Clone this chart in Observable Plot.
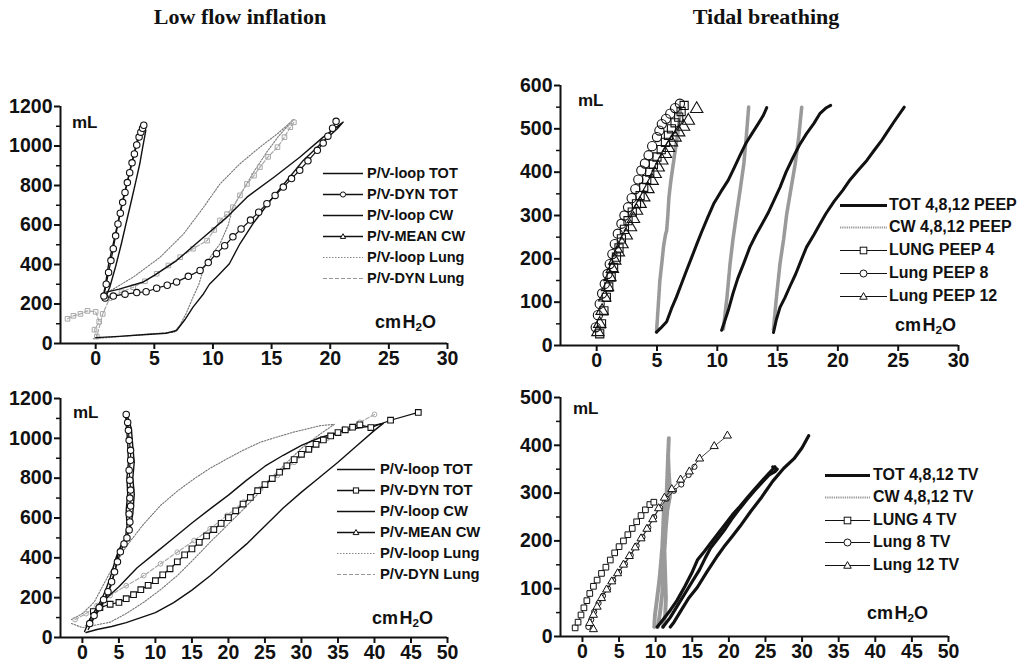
<!DOCTYPE html>
<html><head><meta charset="utf-8">
<script src="https://cdn.jsdelivr.net/npm/d3@7"></script>
<script src="https://cdn.jsdelivr.net/npm/@observablehq/plot@0.6"></script>
<style>
body{margin:0;background:#fff;}
#root{position:relative;width:1027px;height:668px;overflow:hidden;font-family:"Liberation Sans",Arial,sans-serif;color:#111;background:#fff;}
.abs{position:absolute;}
.title{font-family:"Liberation Serif","Times New Roman",serif;font-weight:bold;font-size:22px;line-height:22px;white-space:nowrap;transform:translateX(-50%);}
.unit{font-weight:bold;white-space:nowrap;line-height:1;}
.unit sub{font-size:65%;vertical-align:-0.25em;}
.leg{font-weight:bold;white-space:nowrap;display:flex;align-items:center;}
</style></head><body><div id="root"></div>
<script>
// ---------- titles / labels ----------
const titles = ["Low flow inflation", "Tidal breathing"];
const volUnit = "mL";

// ---------- ticks ----------
const xTicks30 = [0, 5, 10, 15, 20, 25, 30];
const xTicks50 = [0, 5, 10, 15, 20, 25, 30, 35, 40, 45, 50];
const yTicks1200 = [0, 200, 400, 600, 800, 1000, 1200];
const yMinor1200 = [100, 300, 500, 700, 900, 1100];
const yTicks600 = [0, 100, 200, 300, 400, 500, 600];
const yMinor600 = [50, 150, 250, 350, 450, 550];
const yTicks500 = [0, 100, 200, 300, 400, 500];
const yMinor500 = [50, 150, 250, 350, 450];

// ---------- legend labels ----------
const lowFlowLabels = ["P/V-loop TOT", "P/V-DYN TOT", "P/V-loop CW", "P/V-MEAN CW", "P/V-loop Lung", "P/V-DYN Lung"];
const peepLabels = ["TOT 4,8,12 PEEP", "CW 4,8,12 PEEP", "LUNG PEEP 4", "Lung PEEP 8", "Lung PEEP 12"];
const tvLabels = ["TOT 4,8,12 TV", "CW 4,8,12 TV", "LUNG 4 TV", "Lung 8 TV", "Lung 12 TV"];

// ---------- Panel A: low flow inflation (top) ----------
const aLoopTotX = [0, 2, 4, 6, 6.9, 7.6, 8.3, 9.2, 9.7, 10.3, 11.4, 12.3, 13.4, 14.9, 16.3, 17.7, 19.2, 20.6, 21.1, 19.4, 17.4, 15.2, 12.9, 11.2, 9.2, 6.9, 5.0, 4.0, 2.0, 0.9];
const aLoopTotY = [30, 36, 44, 52, 66, 120, 184, 252, 300, 336, 404, 505, 606, 724, 825, 927, 1011, 1087, 1121, 1045, 943, 842, 741, 640, 538, 420, 345, 310, 275, 260];
const aDynTotX = [0.8, 1.5, 2.5, 3.5, 4.3, 5.2, 6.1, 6.9, 7.9, 8.9, 9.6, 10.3, 11.0, 11.7, 12.4, 13.2, 13.9, 14.6, 15.3, 16.0, 16.7, 17.4, 18.1, 18.9, 19.4, 19.8, 20.2, 20.5];
const aDynTotY = [230, 240, 250, 258, 262, 280, 295, 312, 340, 370, 410, 455, 495, 540, 580, 625, 665, 708, 750, 792, 835, 877, 925, 978, 1015, 1050, 1090, 1125];
const aLoopCwX = [0.6, 0.8, 1.1, 1.5, 1.9, 2.3, 2.7, 3.05, 3.4, 3.76, 4.0, 4.15, 4.27, 4.0, 3.76, 3.4, 3.05, 2.6, 2.19, 1.7, 1.2, 0.9];
const aLoopCwY = [230, 285, 400, 505, 615, 724, 820, 910, 995, 1078, 1110, 1095, 1078, 990, 910, 815, 724, 610, 505, 390, 285, 240];
const aMeanCwX = [0.7, 0.9, 1.1, 1.3, 1.5, 1.7, 1.9, 2.1, 2.3, 2.5, 2.7, 2.9, 3.1, 3.3, 3.5, 3.7, 3.85, 4.0, 4.1];
const aMeanCwY = [240, 300, 360, 420, 480, 545, 605, 660, 715, 765, 815, 865, 915, 960, 1005, 1045, 1070, 1090, 1105];
const aLoopLungX = [-0.2, 1, 3, 5, 6.7, 7.2, 7.7, 8.3, 8.8, 9.2, 9.8, 10.6, 11.3, 11.7, 12.6, 13.6, 14.6, 15.6, 16.5, 16.9, 15.5, 14.0, 12.3, 10.6, 9.2, 7.5, 5.5, 3.2, 1.2];
const aLoopLungY = [24, 30, 40, 50, 57, 95, 150, 234, 300, 380, 440, 505, 600, 690, 780, 880, 970, 1050, 1110, 1135, 1062, 994, 910, 808, 690, 555, 437, 336, 265];
const aDynLungX = [-2.4, -1.9, -1.3, -0.7, 0, 0.3, -0.1, 0.1, 0.6, 1.2, 2.2, 3.2, 4.2, 5.2, 6.2, 7.2, 8.3, 9.5, 10.1, 10.6, 11.2, 11.7, 12.3, 12.9, 13.5, 14.0, 14.7, 15.5, 16.1, 16.6, 16.9];
const aDynLungY = [125, 140, 150, 165, 160, 110, 70, 35, 150, 230, 260, 285, 315, 353, 395, 437, 480, 521, 575, 623, 655, 690, 750, 808, 850, 893, 945, 994, 1045, 1095, 1120];

// ---------- Panel C: low flow inflation (bottom) ----------
const cLoopTotX = [0.5, 2, 4, 6, 8, 10, 12.5, 15, 17.5, 20, 22.5, 25, 27.5, 30, 32.5, 35, 37.5, 40, 41.2, 40, 37.5, 35, 32.5, 30, 27.5, 25, 22.5, 20, 17.5, 15, 12.5, 10, 7.5, 5, 3.5, 2, 0.5];
const cLoopTotY = [25, 40, 55, 75, 100, 125, 175, 238, 310, 390, 470, 560, 650, 730, 805, 880, 960, 1040, 1075, 1066, 1050, 1030, 1003, 965, 915, 860, 790, 715, 646, 575, 500, 425, 350, 255, 205, 150, 60];
const cDynTotX = [1.5, 2.4, 3.8, 5, 6, 7, 8, 9, 10, 11, 12, 13, 14, 15, 16, 17, 18, 19, 20, 21, 22, 23, 24, 25, 26, 27, 28, 29, 30, 31, 32, 33, 34, 35, 36, 37, 38, 39.5, 42.2, 46];
const cDynTotY = [130, 150, 167, 176, 195, 215, 240, 262, 285, 315, 345, 380, 415, 445, 478, 510, 542, 573, 602, 636, 670, 703, 737, 768, 798, 830, 862, 893, 920, 945, 970, 992, 1012, 1029, 1043, 1056, 1068, 1054, 1091, 1130];
const cLoopCwX = [0.3, 1.0, 1.8, 2.6, 3.2, 3.8, 4.2, 4.6, 5.0, 5.4, 5.9, 6.1, 6.0, 6.2, 6.1, 6.3, 6.2, 5.9, 6.1, 6.7, 6.9, 7.1, 6.9, 7.1, 6.9, 6.5, 5.9, 5.4, 4.9, 4.5, 3.9, 3.2, 2.5, 1.6, 0.8];
const cLoopCwY = [30, 90, 140, 190, 240, 300, 350, 400, 440, 470, 500, 560, 640, 720, 800, 880, 980, 1120, 1120, 1050, 960, 880, 800, 720, 620, 540, 500, 470, 420, 340, 260, 200, 150, 100, 40];
const cMeanCwX = [1.0, 1.6, 2.3, 2.9, 3.5, 4.0, 4.4, 4.8, 5.2, 5.7, 6.1, 6.4, 6.5, 6.4, 6.6, 6.5, 6.6, 6.5, 6.4, 6.6, 6.6, 6.4, 6.3, 6.2, 6.0];
const cMeanCwY = [70, 110, 150, 190, 230, 280, 330, 380, 430, 470, 500, 540, 580, 620, 660, 700, 740, 790, 840, 890, 940, 990, 1040, 1080, 1120];
const cLoopLungX = [-1.5, 0, 1.5, 3.8, 6, 8.4, 10.7, 13, 15.3, 17.5, 19.8, 22.1, 24, 25.5, 27.5, 30, 32.5, 34.5, 32.6, 30.5, 28.9, 26.5, 24.4, 22, 19.8, 17.5, 15.3, 13, 10.7, 8.4, 6.1, 3.8, 1.6, 0, -1.5];
const cLoopLungY = [70, 50, 60, 77, 120, 177, 240, 311, 395, 479, 562, 646, 720, 790, 860, 950, 1020, 1070, 1064, 1045, 1031, 1005, 981, 940, 897, 850, 797, 735, 663, 570, 462, 328, 177, 120, 90];
const cDynLungX = [-1, 0.5, 2, 3.8, 6, 8.4, 10.7, 13, 15.3, 17.5, 19.8, 22.1, 24.4, 26.7, 29, 31.2, 33.5, 35.8, 38, 40];
const cDynLungY = [90, 120, 160, 211, 260, 311, 370, 428, 487, 546, 613, 680, 747, 814, 880, 948, 1000, 1048, 1080, 1120];

// ---------- Panel B: tidal breathing, PEEP ----------
const bTotAX = [4.96, 5.3, 5.8, 6.2, 6.6, 7.0, 7.45, 7.9, 8.3, 8.7, 9.2, 9.7, 10.3, 10.9, 11.4, 11.9, 12.4, 12.9, 13.4, 13.8, 14.1];
const bTotAY = [31, 40, 55, 85, 111, 140, 173, 205, 234, 262, 295, 327, 355, 381, 410, 440, 468, 490, 512, 530, 549];
const bTotBX = [10.36, 10.6, 10.9, 11.3, 11.7, 12.2, 12.7, 13.2, 13.7, 14.2, 14.7, 15.2, 15.7, 16.3, 16.8, 17.4, 18.0, 18.5, 19.0, 19.4];
const bTotBY = [35, 55, 80, 120, 155, 190, 227, 255, 280, 305, 335, 365, 400, 435, 462, 489, 512, 535, 548, 554];
const bTotCX = [14.66, 14.9, 15.2, 15.6, 16.0, 16.5, 17.0, 17.4, 18.0, 18.5, 19.0, 19.7, 20.4, 21.0, 21.7, 22.4, 23.0, 23.6, 24.0, 24.7, 25.5];
const bTotCY = [30, 60, 88, 110, 135, 165, 200, 227, 255, 280, 304, 333, 358, 382, 405, 427, 450, 472, 489, 518, 550];
const bCwAX = [4.96, 5.1, 5.24, 5.4, 5.55, 5.7, 5.8, 5.9, 5.99, 6.15, 6.35, 6.55, 6.76, 6.96];
const bCwAY = [31, 90, 150, 190, 230, 255, 265, 300, 342, 380, 419, 458, 496, 550];
const bCwBX = [10.5, 10.8, 11.06, 11.3, 11.6, 11.9, 12.2, 12.4, 12.6];
const bCwBY = [38, 110, 189, 245, 304, 360, 419, 480, 550];
const bCwCX = [14.66, 14.9, 15.2, 15.5, 15.76, 16.1, 16.46, 16.75, 17.0];
const bCwCY = [38, 110, 189, 245, 304, 360, 419, 480, 550];
const bLung4X = [0.25, 0.4, 0.6, 0.8, 1.0, 1.2, 1.4, 1.64, 1.85, 2.05, 2.3, 2.6, 2.95, 3.3, 3.6, 3.9, 4.15, 4.4, 4.7, 5.0, 5.35, 5.7, 5.95, 6.2, 6.5, 6.8, 7.0, 7.25];
const bLung4Y = [27, 50, 80, 111, 135, 158, 180, 204, 225, 246, 268, 288, 308, 327, 346, 365, 383, 400, 418, 435, 452, 469, 485, 500, 514, 527, 540, 554];
const bLung8X = [-0.08, 0.1, 0.25, 0.45, 0.67, 0.9, 1.08, 1.3, 1.5, 1.75, 2.05, 2.3, 2.6, 2.9, 3.2, 3.45, 3.7, 4.0, 4.3, 4.6, 5.0, 5.2, 5.4, 5.75, 6.1, 6.5, 6.9];
const bLung8Y = [42, 70, 96, 120, 142, 165, 188, 211, 234, 258, 281, 300, 319, 340, 361, 383, 404, 420, 439, 460, 481, 496, 511, 523, 535, 548, 558];
const bLung12X = [0.1, 0.25, 0.45, 0.67, 0.9, 1.1, 1.3, 1.5, 1.8, 2.1, 2.45, 2.8, 3.05, 3.3, 3.6, 3.9, 4.25, 4.6, 4.85, 5.1, 5.4, 5.7, 5.95, 6.2, 6.5, 6.8, 7.2, 7.6, 8.29];
const bLung12Y = [31, 50, 80, 111, 135, 158, 177, 196, 215, 234, 254, 273, 292, 311, 327, 342, 361, 380, 396, 411, 427, 442, 456, 469, 480, 492, 505, 519, 546];

// ---------- Panel D: tidal breathing, TV ----------
const dTotAX = [10.2, 11.0, 12.0, 12.9, 14.0, 15.0, 15.7, 16.5, 17.5, 18.5, 19.5, 20.5, 21.5, 22.5, 23.5, 24.5, 25.5, 26.3];
const dTotAY = [20, 35, 55, 75, 105, 135, 160, 175, 195, 215, 235, 255, 272, 290, 308, 325, 342, 355];
const dTotBX = [11.0, 12.0, 13.0, 14.0, 15.0, 16.0, 16.8, 17.5, 18.5, 19.5, 20.5, 21.5, 22.5, 23.5, 24.5, 25.5, 26.3, 26.6, 26.0];
const dTotBY = [20, 40, 65, 90, 115, 140, 165, 185, 205, 225, 248, 268, 287, 305, 322, 338, 345, 350, 355];
const dTotCX = [12.0, 12.5, 13.5, 14.5, 15.7, 17.0, 18.5, 19.3, 20.5, 21.5, 23.0, 24.5, 26.0, 27.5, 28.9, 30.0, 30.9];
const dTotCY = [20, 30, 55, 80, 103, 135, 170, 187, 210, 230, 262, 292, 325, 352, 372, 395, 420];
const dCwAX = [9.8, 9.9, 10.2, 10.5, 10.7, 10.9, 11.0, 11.1, 11.3, 11.5, 11.6, 11.7, 11.8];
const dCwAY = [20, 45, 80, 117, 150, 187, 220, 257, 280, 300, 340, 380, 415];
const dCwBX = [10.3, 10.6, 10.9, 11.0, 11.1, 11.2, 11.4, 11.8, 12.0, 11.8, 11.7];
const dCwBY = [20, 50, 90, 140, 190, 240, 270, 285, 300, 340, 380];
const dCwCX = [11.0, 11.3, 11.4, 11.3, 11.2, 11.4, 11.6, 11.9, 11.7];
const dCwCY = [20, 45, 80, 130, 180, 230, 265, 290, 320];
const dLung4X = [-1, -0.6, -0.2, 0.2, 0.6, 1.0, 1.5, 2.0, 2.6, 3.2, 3.8, 4.4, 5.0, 5.6, 6.2, 6.8, 7.4, 8.0, 8.6, 9.2, 9.75];
const dLung4Y = [18, 30, 45, 60, 75, 90, 105, 118, 132, 145, 160, 175, 188, 200, 213, 226, 240, 253, 265, 276, 281];
const dLung8X = [0.8, 1.2, 1.6, 2.2, 2.8, 3.5, 4.2, 5.0, 5.8, 6.6, 7.4, 8.2, 9.0, 9.8, 10.6, 11.5, 12.5, 13.5, 14.5, 15.3];
const dLung8Y = [20, 35, 52, 70, 85, 100, 118, 135, 152, 170, 190, 208, 228, 250, 270, 288, 305, 318, 338, 355];
const dLung12X = [1.5, 1.0, 1.5, 2.0, 2.6, 3.3, 4.0, 4.8, 5.6, 6.4, 7.2, 8.0, 8.8, 9.6, 10.4, 11.2, 12.2, 13.4, 14.6, 16.0, 18.0, 19.8];
const dLung12Y = [15, 28, 45, 62, 80, 98, 115, 132, 150, 168, 186, 205, 225, 245, 268, 290, 308, 328, 345, 372, 398, 420];

// ---------- helpers ----------
const zip = (xs, ys) => xs.map((x, i) => ({x, y: ys[i]}));
const INK = "#111";
const LIGHT = "#a8a8a8";
const root = document.getElementById("root");
const plain = d => String(d);

function addPanel(o) {
  const svg = Plot.plot({
    width: o.width, height: o.height,
    marginLeft: o.ml, marginRight: o.mr, marginTop: o.mt, marginBottom: o.mb,
    x: {domain: o.xDomain}, y: {domain: o.yDomain},
    style: {background: "transparent", fontFamily: '"Liberation Sans", Arial, sans-serif', fontSize: "19.5px", fontWeight: "bold", color: INK, overflow: "visible"},
    marks: [
      ...o.marks,
      Plot.ruleX([o.xDomain[0]], {stroke: INK, strokeWidth: 2}),
      Plot.ruleY([o.yDomain[0]], {stroke: INK, strokeWidth: 2}),
      Plot.axisX(o.xTicks, {tickSize: 6, tickPadding: 2, strokeWidth: 2, tickFormat: plain, label: null}),
      Plot.axisY(o.yTicks, {tickSize: 6, tickPadding: 2, strokeWidth: 2, tickFormat: plain, label: null}),
      Plot.axisY(o.yMinor, {tickSize: 4, strokeWidth: 1.5, tickFormat: () => "", label: null})
    ]
  });
  svg.style.position = "absolute";
  svg.style.left = o.left + "px";
  svg.style.top = o.top + "px";
  root.appendChild(svg);
}

function symbolPath(sym, cx, cy, s) {
  if (sym === "circle") return `<circle cx="${cx}" cy="${cy}" r="${s}" />`;
  if (sym === "square") return `<rect x="${cx - s}" y="${cy - s}" width="${2 * s}" height="${2 * s}" />`;
  if (sym === "triangle") return `<path d="M${cx},${cy - s * 1.15}L${cx + s * 1.1},${cy + s * 0.8}L${cx - s * 1.1},${cy + s * 0.8}Z" />`;
  return "";
}

function addLegend(o) {
  o.labels.forEach((label, i) => {
    const st = o.styles[i];
    const cy = o.cy0 + i * o.rowH;
    const row = document.createElement("div");
    row.className = "abs leg";
    row.style.left = o.x0 + "px";
    row.style.top = Math.round(cy - o.rowH / 2) + "px";
    row.style.height = o.rowH + "px";
    row.style.fontSize = o.fontSize + "px";
    const w = o.lineW, h = 14, ly = 7.5;
    const dash = st.dash ? `stroke-dasharray="${st.dash}"` : "";
    const sym = st.symbol ? `<g fill="white" stroke="${st.stroke}" stroke-width="1">${symbolPath(st.symbol, w / 2, ly, st.size || 3)}</g>` : "";
    row.innerHTML = `<svg width="${w}" height="${h}" style="margin-right:${o.gap}px;overflow:visible"><line x1="0" y1="${ly}" x2="${w}" y2="${ly}" stroke="${st.stroke}" stroke-width="${st.width}" ${dash}/>${sym}</svg><span>${label}</span>`;
    root.appendChild(row);
  });
}

function addText(cls, html, left, top, fontSize) {
  const d = document.createElement("div");
  d.className = "abs " + cls;
  d.innerHTML = html;
  d.style.left = left + "px";
  d.style.top = top + "px";
  if (fontSize) d.style.fontSize = fontSize + "px";
  root.appendChild(d);
}

const lineM = (xs, ys, opt) => Plot.line(zip(xs, ys), {x: "x", y: "y", strokeLinejoin: "round", ...opt});
const dotM = (xs, ys, opt) => Plot.dot(zip(xs, ys), {x: "x", y: "y", ...opt});

// ---------- Panel A ----------
addPanel({
  left: 0, top: 80, width: 510, height: 300, ml: 60, mr: 63, mt: 26, mb: 37,
  xDomain: [-3, 30], yDomain: [0, 1200], xTicks: xTicks30, yTicks: yTicks1200, yMinor: yMinor1200,
  marks: [
    lineM(aLoopLungX, aLoopLungY, {stroke: "#777", strokeWidth: 1.1, strokeDasharray: "1.5,1.5"}),
    lineM(aDynLungX, aDynLungY, {stroke: LIGHT, strokeWidth: 1.2, strokeDasharray: "4,2"}),
    dotM(aDynLungX, aDynLungY, {symbol: "square", r: 2.6, stroke: LIGHT, fill: "none", strokeWidth: 1}),
    lineM(aLoopTotX, aLoopTotY, {stroke: INK, strokeWidth: 1.4}),
    lineM(aDynTotX, aDynTotY, {stroke: INK, strokeWidth: 1.2}),
    dotM(aDynTotX, aDynTotY, {symbol: "circle", r: 3.2, stroke: INK, fill: "white", strokeWidth: 1.1}),
    lineM(aLoopCwX, aLoopCwY, {stroke: INK, strokeWidth: 1.4}),
    lineM(aMeanCwX, aMeanCwY, {stroke: INK, strokeWidth: 1.2}),
    dotM(aMeanCwX, aMeanCwY, {symbol: "circle", r: 3.2, stroke: INK, fill: "white", strokeWidth: 1.1})
  ]
});

// ---------- Panel B ----------
const hatch = {stroke: "#9a9a9a", strokeWidth: 3.6, strokeDasharray: "1.3,0.9"};
addPanel({
  left: 500, top: 60, width: 527, height: 320, ml: 60, mr: 69, mt: 25, mb: 35,
  xDomain: [-3, 30], yDomain: [0, 600], xTicks: xTicks30, yTicks: yTicks600, yMinor: yMinor600,
  marks: [
    lineM(bCwAX, bCwAY, hatch),
    lineM(bCwBX, bCwBY, hatch),
    lineM(bCwCX, bCwCY, hatch),
    lineM(bTotAX, bTotAY, {stroke: INK, strokeWidth: 3}),
    lineM(bTotBX, bTotBY, {stroke: INK, strokeWidth: 3}),
    lineM(bTotCX, bTotCY, {stroke: INK, strokeWidth: 3}),
    dotM(bLung4X, bLung4Y, {symbol: "square", r: 4.6, stroke: INK, fill: "none", strokeWidth: 1.1}),
    dotM(bLung8X, bLung8Y, {symbol: "circle", r: 4.6, stroke: INK, fill: "none", strokeWidth: 1.1}),
    dotM(bLung12X, bLung12Y, {symbol: "triangle", r: 4.6, stroke: INK, fill: "none", strokeWidth: 1.1})
  ]
});

// ---------- Panel C ----------
addPanel({
  left: 0, top: 380, width: 510, height: 288, ml: 60, mr: 63, mt: 18, mb: 31,
  xDomain: [-3, 50], yDomain: [0, 1200], xTicks: xTicks50, yTicks: yTicks1200, yMinor: yMinor1200,
  marks: [
    lineM(cLoopLungX, cLoopLungY, {stroke: "#777", strokeWidth: 1.1, strokeDasharray: "1.5,1.5"}),
    lineM(cDynLungX, cDynLungY, {stroke: LIGHT, strokeWidth: 1.2, strokeDasharray: "4,2"}),
    dotM(cDynLungX, cDynLungY, {symbol: "circle", r: 2.4, stroke: LIGHT, fill: "none", strokeWidth: 1}),
    lineM(cLoopTotX, cLoopTotY, {stroke: INK, strokeWidth: 1.4}),
    lineM(cDynTotX, cDynTotY, {stroke: INK, strokeWidth: 1.2}),
    dotM(cDynTotX, cDynTotY, {symbol: "square", r: 3.2, stroke: INK, fill: "white", strokeWidth: 1.1}),
    lineM(cLoopCwX, cLoopCwY, {stroke: INK, strokeWidth: 1.4}),
    lineM(cMeanCwX, cMeanCwY, {stroke: INK, strokeWidth: 1.2}),
    dotM(cMeanCwX, cMeanCwY, {symbol: "circle", r: 3.2, stroke: INK, fill: "white", strokeWidth: 1.1})
  ]
});

// ---------- Panel D ----------
const hatchD = {stroke: "#9a9a9a", strokeWidth: 4, strokeDasharray: "1.3,0.9"};
addPanel({
  left: 500, top: 380, width: 527, height: 288, ml: 60, mr: 79, mt: 17, mb: 32,
  xDomain: [-3, 50], yDomain: [0, 500], xTicks: xTicks50, yTicks: yTicks500, yMinor: yMinor500,
  marks: [
    lineM(dCwAX, dCwAY, hatchD),
    lineM(dCwBX, dCwBY, hatchD),
    lineM(dCwCX, dCwCY, hatchD),
    lineM(dTotAX, dTotAY, {stroke: INK, strokeWidth: 3.2}),
    lineM(dTotBX, dTotBY, {stroke: INK, strokeWidth: 3.2}),
    lineM(dTotCX, dTotCY, {stroke: INK, strokeWidth: 3.2}),
    lineM(dLung4X, dLung4Y, {stroke: INK, strokeWidth: 0.8}),
    dotM(dLung4X, dLung4Y, {symbol: "square", r: 3.2, stroke: INK, fill: "white", strokeWidth: 1}),
    lineM(dLung8X, dLung8Y, {stroke: INK, strokeWidth: 0.8}),
    dotM(dLung8X, dLung8Y, {symbol: "circle", r: 2.6, stroke: INK, fill: "white", strokeWidth: 1}),
    lineM(dLung12X, dLung12Y, {stroke: INK, strokeWidth: 0.8}),
    dotM(dLung12X, dLung12Y, {symbol: "triangle", r: 3, stroke: INK, fill: "white", strokeWidth: 1})
  ]
});

// ---------- titles & units ----------
addText("title", titles[0], 240, 6);
addText("title", titles[1], 766, 6);
const unitH = "cm&#8202;H<sub>2</sub>O";
[[72, 114], [578, 92], [73, 404], [573, 400]].forEach(([l, t]) => addText("unit", volUnit, l, t, 17));
[[375, 313], [895, 316], [372, 609], [867, 604]].forEach(([l, t]) => addText("unit", unitH, l, t, 18));

// ---------- legends ----------
const lowFlowStylesA = [
  {stroke: INK, width: 1.3},
  {stroke: INK, width: 1.3, symbol: "circle", size: 2.6},
  {stroke: INK, width: 1.3},
  {stroke: INK, width: 1.3, symbol: "triangle", size: 2.4},
  {stroke: "#888", width: 1.1, dash: "1.5,1.5"},
  {stroke: "#999", width: 1.1, dash: "4,2"}
];
const lowFlowStylesC = [
  {stroke: INK, width: 1.3},
  {stroke: INK, width: 1.3, symbol: "square", size: 2.6},
  {stroke: INK, width: 1.3},
  {stroke: INK, width: 1.3, symbol: "triangle", size: 2.6},
  {stroke: "#888", width: 1.1, dash: "1.5,1.5"},
  {stroke: "#999", width: 1.1, dash: "4,2"}
];
const tidalStyles = [
  {stroke: INK, width: 3},
  {stroke: "#9a9a9a", width: 2.2, dash: "1.3,0.9"},
  {stroke: INK, width: 1, symbol: "square", size: 3.3},
  {stroke: INK, width: 1, symbol: "circle", size: 3.5},
  {stroke: INK, width: 1, symbol: "triangle", size: 3.4}
];
addLegend({labels: lowFlowLabels, styles: lowFlowStylesA, x0: 323, cy0: 172, rowH: 21, fontSize: 14.5, lineW: 40, gap: 4});
addLegend({labels: lowFlowLabels, styles: lowFlowStylesC, x0: 337, cy0: 468, rowH: 21, fontSize: 14.8, lineW: 38, gap: 5});
addLegend({labels: peepLabels, styles: tidalStyles, x0: 840, cy0: 205, rowH: 22.8, fontSize: 16, lineW: 47, gap: 2});
addLegend({labels: tvLabels, styles: tidalStyles, x0: 825, cy0: 475, rowH: 22.5, fontSize: 16, lineW: 45, gap: 3});
</script></body></html>
